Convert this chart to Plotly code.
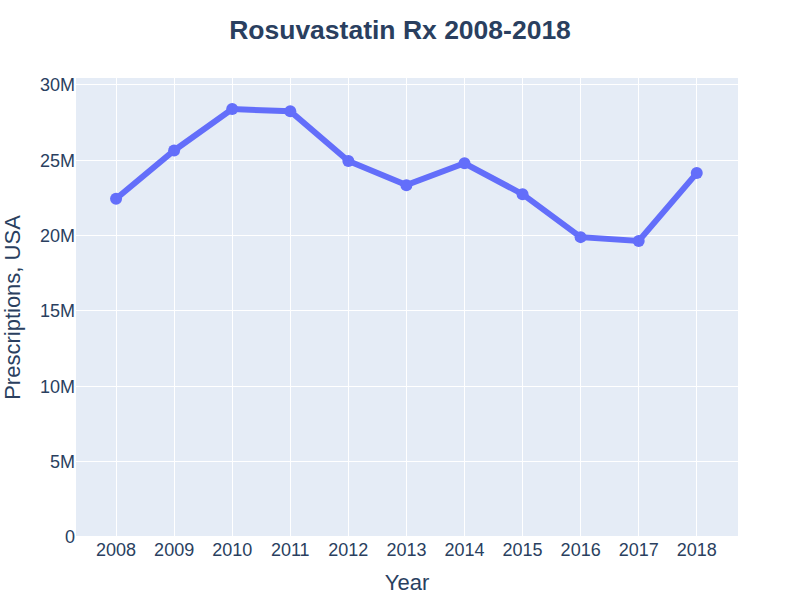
import plotly.graph_objects as go

years = [2008, 2009, 2010, 2011, 2012, 2013, 2014, 2015, 2016, 2017, 2018]
prescriptions = [22.45e6, 25.65e6, 28.4e6, 28.25e6, 24.95e6, 23.35e6, 24.8e6, 22.75e6, 19.9e6, 19.65e6, 24.15e6]

fig = go.Figure(go.Scatter(
    x=years, y=prescriptions, mode="lines+markers",
    line=dict(color="#636efa", width=6),
    marker=dict(color="#636efa", size=12),
))
fig.update_layout(
    width=800, height=600,
    template="plotly",
    font=dict(family="Liberation Sans, Arial, sans-serif", size=18, color="#2a3f5f"),
    title=dict(text="<b>Rosuvastatin Rx 2008-2018</b>", x=0.5, xanchor="center",
               y=0.951, yanchor="middle", font=dict(size=26.5)),
    margin=dict(l=76, r=62, t=78, b=63),
    xaxis=dict(title=dict(text="Year", font=dict(size=22)), tickmode="linear", dtick=1,
               range=[2007.31, 2018.71], automargin=False),
    yaxis=dict(title=dict(text="Prescriptions, USA", font=dict(size=22)),
               range=[0, 30.46e6], dtick=5e6, automargin=False),
    showlegend=False,
)
fig.write_html("out.html")
